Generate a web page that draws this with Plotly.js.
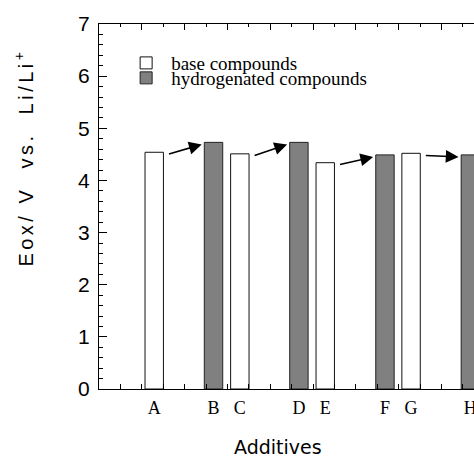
<!DOCTYPE html>
<html>
<head>
<meta charset="utf-8">
<script src="https://cdn.plot.ly/plotly-3.0.1.min.js"></script>
<style>html,body{margin:0;padding:0;background:#fff;}#chart{width:474px;height:457px;}</style>
</head>
<body>
<div id="chart"></div>
<script>
// Data
const additives = ['A', 'B', 'C', 'D', 'E', 'F', 'G', 'H'];
const xPos = [2.58, 5.35, 6.58, 9.34, 10.57, 13.36, 14.58, 17.35];
const baseIdx = [0, 2, 4, 6];
const hydIdx = [1, 3, 5, 7];
const eox = [4.54, 4.73, 4.51, 4.73, 4.34, 4.49, 4.52, 4.49];
const seriesNames = ['base compounds', 'hydrogenated compounds'];

const baseX = baseIdx.map(i => xPos[i]);
const baseY = baseIdx.map(i => eox[i]);
const hydX = hydIdx.map(i => xPos[i]);
const hydY = hydIdx.map(i => eox[i]);

const XMAX = 17.52;
const barW = 0.86;

const traces = [
  {type: 'bar', x: baseX, y: baseY, width: barW, name: seriesNames[0], legend: 'legend',
   marker: {color: '#ffffff', line: {color: '#111', width: 1}}, hoverinfo: 'none'},
  {type: 'bar', x: hydX, y: hydY, width: barW, name: seriesNames[1], legend: 'legend2',
   marker: {color: '#808080', line: {color: '#222', width: 1}}, hoverinfo: 'none'},
  {type: 'scatter', x: [0], y: [0], xaxis: 'x2', mode: 'markers', marker: {opacity: 0}, showlegend: false, hoverinfo: 'none'},
  {type: 'scatter', x: [0], y: [0], xaxis: 'x3', mode: 'markers', marker: {opacity: 0}, showlegend: false, hoverinfo: 'none'}
];

// arrows from each base bar to its hydrogenated counterpart
const arrows = baseIdx.map((bi, k) => {
  const hi = hydIdx[k];
  return {
    xref: 'x', yref: 'y', axref: 'x', ayref: 'y',
    x: xPos[hi] - 0.55, y: eox[hi] - 0.04,
    ax: xPos[bi] + 0.62, ay: eox[bi] - 0.04,
    text: '', showarrow: true, arrowhead: 2, arrowsize: 1.6, arrowwidth: 1.6, arrowcolor: '#000'
  };
});

const layout = {
  width: 474, height: 457,
  margin: {l: 99, r: 0, t: 24, b: 68},
  paper_bgcolor: '#fff', plot_bgcolor: '#fff',
  bargap: 0,
  showlegend: true,
  xaxis: {
    range: [0, XMAX], showgrid: false, zeroline: false,
    showline: true, linecolor: '#000', linewidth: 1,
    tickmode: 'linear', tick0: 0, dtick: 1, ticks: 'inside', ticklen: 5, tickcolor: '#000',
    showticklabels: false
  },
  xaxis3: {
    overlaying: 'x', side: 'bottom', anchor: 'y', range: [0, XMAX],
    showgrid: false, zeroline: false, showline: false,
    tickmode: 'array', tickvals: xPos, ticktext: additives, ticks: '',
    ticklabelstandoff: 6, ticklabeloverflow: 'allow',
    tickfont: {family: 'Liberation Serif', size: 18, color: '#000'}
  },
  xaxis2: {
    overlaying: 'x', side: 'top', anchor: 'y', range: [0, XMAX],
    showgrid: false, zeroline: false, showline: true, linecolor: '#000', linewidth: 1,
    tickmode: 'linear', tick0: 0, dtick: 2, ticks: 'inside', ticklen: 6, tickcolor: '#000',
    minor: {tickmode: 'linear', tick0: 0, dtick: 1, ticks: 'inside', ticklen: 3, tickcolor: '#000'},
    showticklabels: false
  },
  yaxis: {
    range: [0, 7], showgrid: false, zeroline: false,
    showline: true, linecolor: '#000', linewidth: 1,
    tickmode: 'linear', tick0: 0, dtick: 1, ticks: 'inside', ticklen: 8, tickcolor: '#000',
    minor: {tickmode: 'linear', tick0: 0, dtick: 0.2, ticks: 'inside', ticklen: 4, tickcolor: '#000'},
    ticklabelstandoff: 4,
    tickfont: {family: 'Liberation Sans', size: 21, color: '#000'}
  },
  legend: {
    x: 0.059, y: 0.893, xanchor: 'left', yanchor: 'middle', bgcolor: 'rgba(0,0,0,0)', itemwidth: 40,
    font: {family: 'Liberation Serif', size: 19, color: '#000'}
  },
  legend2: {
    x: 0.059, y: 0.852, xanchor: 'left', yanchor: 'middle', bgcolor: 'rgba(0,0,0,0)', itemwidth: 40,
    font: {family: 'Liberation Serif', size: 19, color: '#000'}
  },
  annotations: arrows.concat([
    {xref: 'paper', yref: 'paper', x: 0.477, y: -0.159, xanchor: 'center', yanchor: 'middle',
     text: 'Additives', showarrow: false, font: {family: 'DejaVu Sans', size: 19, color: '#000'}},
    {xref: 'paper', yref: 'paper', x: -0.2, y: 0.634, xanchor: 'center', yanchor: 'middle', textangle: -90,
     text: '<span style="letter-spacing:3.5px">Eox/ V  vs.  Li/Li<sup>+</sup></span>', showarrow: false,
     font: {family: 'Liberation Sans', size: 20, color: '#000'}}
  ])
};

Plotly.newPlot('chart', traces, layout, {staticPlot: true, displayModeBar: false});
</script>
</body>
</html>
